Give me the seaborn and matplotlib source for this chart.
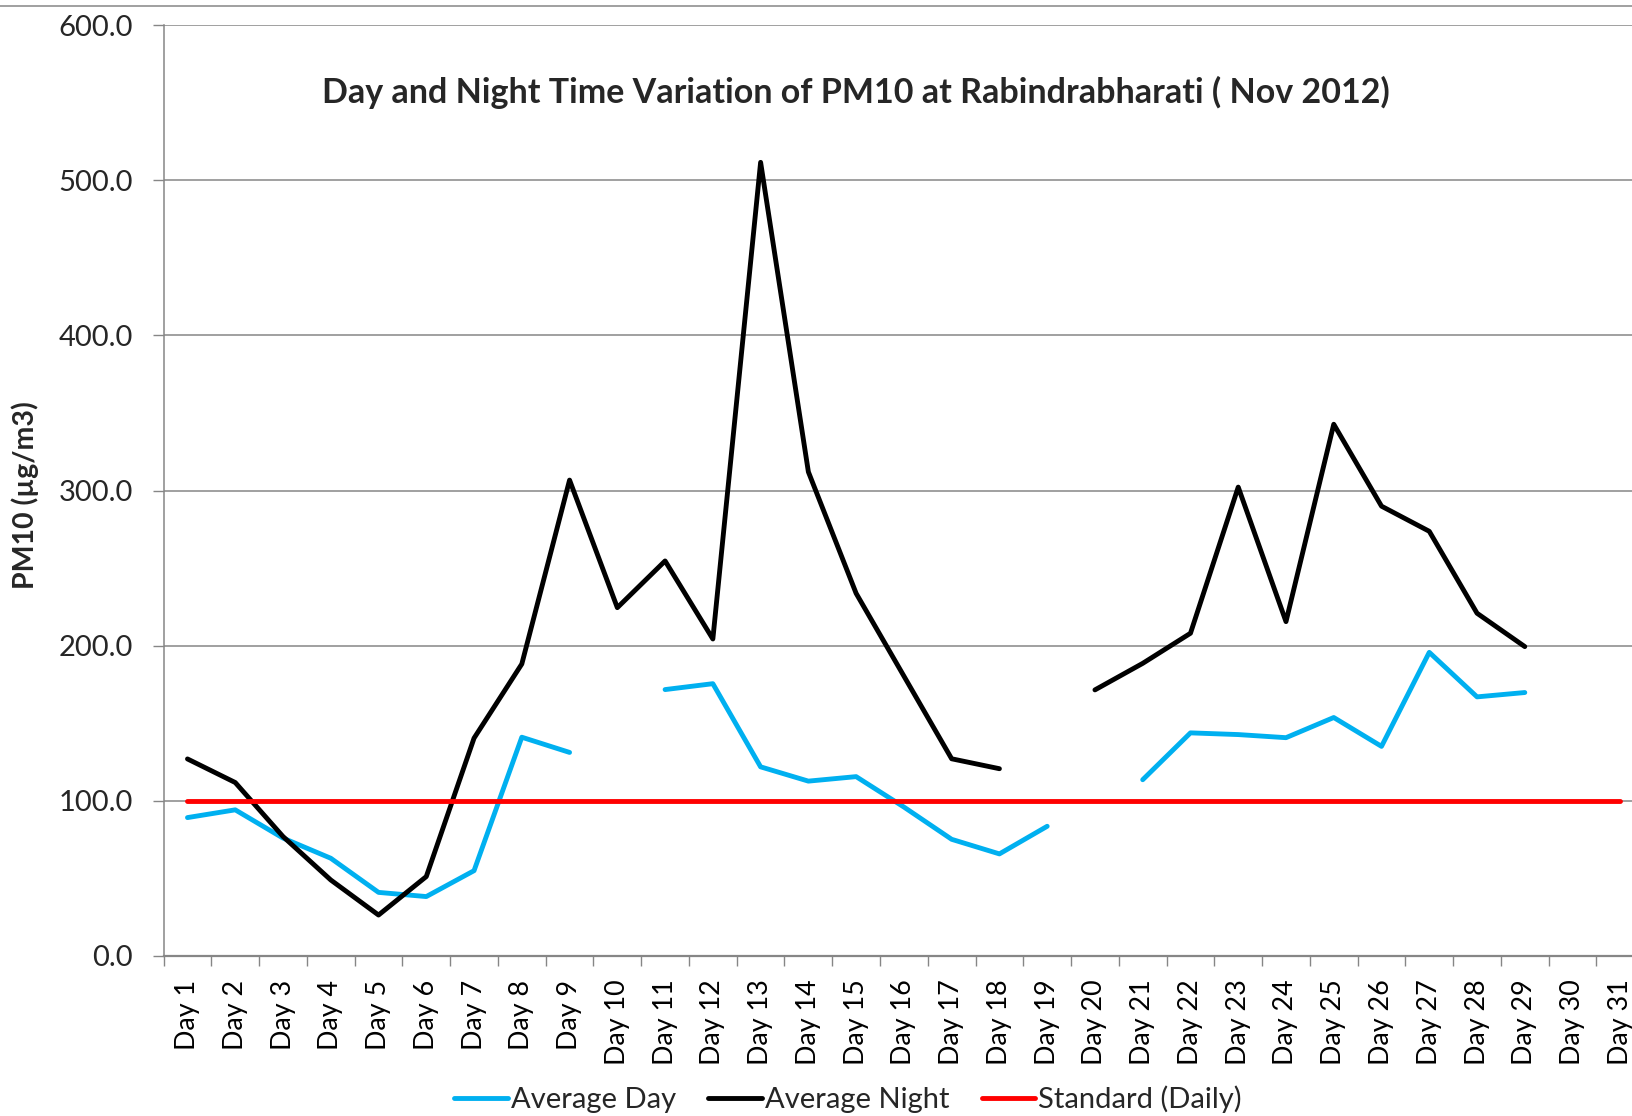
import numpy as np
import pandas as pd
import matplotlib.pyplot as plt
import seaborn as sns
from matplotlib.lines import Line2D

nan = np.nan

days = [f"Day {i}" for i in range(1, 32)]
avg_day = [89.2, 94.2, 76.0, 63.0, 41.0, 38.3, 55.0, 141.0, 131.2, nan,
           171.7, 175.5, 121.9, 112.7, 115.6, 96.0, 75.2, 65.8, 83.6, nan,
           113.6, 143.8, 142.7, 140.7, 153.7, 135.1, 195.7, 167.0, 169.8, nan, nan]
avg_night = [127.0, 111.8, 77.0, 49.0, 26.4, 51.2, 140.4, 188.2, 306.7, 224.5,
             254.6, 204.3, 511.5, 312.0, 233.7, 180.4, 127.1, 120.7, nan, 171.5,
             188.6, 208.0, 302.2, 215.5, 342.7, 289.9, 273.7, 220.9, 199.4, nan, nan]
standard = [100.0] * 31

series = {"Average Day": avg_day, "Average Night": avg_night, "Standard (Daily)": standard}
palette = {"Average Day": "#00B0F0", "Average Night": "#000000", "Standard (Daily)": "#FF0000"}

# long-form table, a new segment id after each gap so lines break there
rows = []
seg = 0
for name, vals in series.items():
    seg += 1
    for i, v in enumerate(vals):
        if np.isnan(v):
            seg += 1
            continue
        rows.append({"x": i, "value": v, "series": name, "seg": seg})
df = pd.DataFrame(rows)

sns.set_theme(style="white")
plt.rcParams["font.family"] = ["Lato", "DejaVu Sans"]

W, H = 1633, 1116
fig = plt.figure(figsize=(W / 100, H / 100), dpi=100)
ax = fig.add_axes([163.6 / W, (H - 956) / H, (1644.2 - 163.6) / W, (956 - 25) / H])

grid_c = "#868686"
sns.lineplot(data=df, x="x", y="value", hue="series", units="seg", estimator=None,
             palette=palette, linewidth=3.5, sort=False, ax=ax,
             solid_capstyle="round", zorder=3)

ax.set_xlim(-0.5, 30.5)
ax.set_ylim(0, 600)
ax.set_yticks(np.arange(0, 601, 100))
ax.set_yticklabels([f"{v:.1f}" for v in np.arange(0, 601, 100)], fontsize=21)
ax.set_xticks(range(31))
ax.set_xticklabels(days, rotation=90, fontsize=19.4)
ax.set_xticks(np.arange(-0.5, 31, 1), minor=True)
ax.tick_params(axis="x", which="major", length=0, pad=17, colors="black")
ax.tick_params(axis="x", which="minor", length=7, width=1, color=grid_c, bottom=True)
ax.tick_params(axis="y", which="major", length=8, width=1, color=grid_c, pad=14, left=True)
ax.yaxis.grid(True, color=grid_c, linewidth=1.1)
ax.set_axisbelow(True)
ax.set_xlabel("")
ax.set_ylabel("")
for s in ["top", "right"]:
    ax.spines[s].set_visible(False)
ax.spines["left"].set_color(grid_c)
ax.spines["bottom"].set_color(grid_c)
ax.spines["left"].set_linewidth(1.1)
ax.spines["bottom"].set_linewidth(1.6)

ax.text((856 - 163.6) / (1644.2 - 163.6), (956 - 92) / 931,
        "Day and Night Time Variation of PM10 at Rabindrabharati ( Nov 2012)",
        transform=ax.transAxes, ha="center", va="center", fontsize=24.5, fontweight="bold")

fig.text(25 / W, 1 - 495 / H, "PM10 (µg/m3)", rotation=90, ha="center", va="center",
         fontsize=20.5, fontweight="bold")

handles, labels = ax.get_legend_handles_labels()
ax.get_legend().remove()
fig.legend(handles, labels, loc="center", bbox_to_anchor=(848 / W, 1 - 1099 / H), ncol=3,
           frameon=False, fontsize=21, handlelength=1.85, handletextpad=0.1,
           columnspacing=1.1)

fig.add_artist(Line2D([0, 1], [1 - 6 / H, 1 - 6 / H], color=grid_c, linewidth=1.1))

fig.savefig("out.png", dpi=100)
